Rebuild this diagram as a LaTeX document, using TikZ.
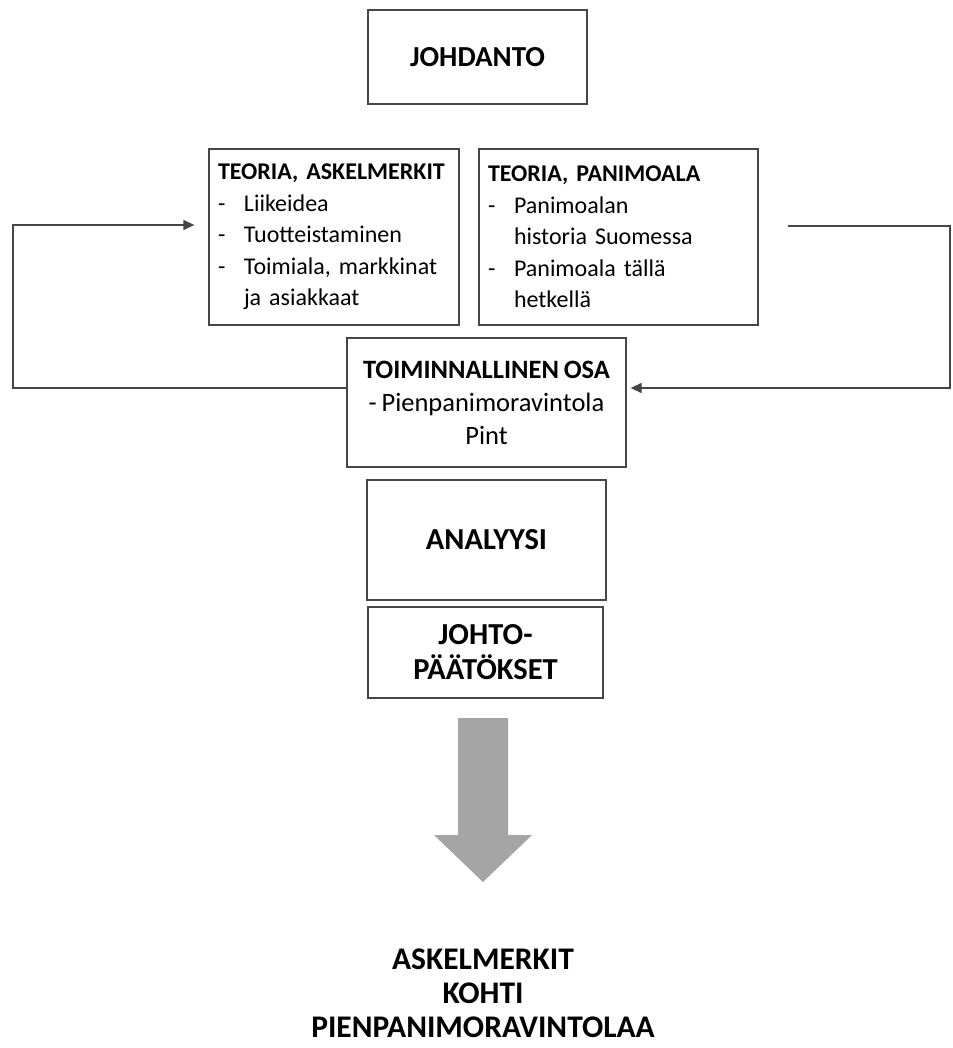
\documentclass[tikz,border=0pt]{standalone}
\usepackage{fontspec}
\setmainfont{Carlito}[WordSpace=0.8]
\frenchspacing
\usetikzlibrary{arrows.meta,positioning}
\definecolor{boxgrey}{RGB}{70,70,70}
\definecolor{flowgrey}{RGB}{165,165,165}
\newcommand{\dashitem}[1]{\makebox[26pt][l]{-}#1}
\newcommand{\hangitem}[1]{\hspace*{26pt}#1}
\tikzset{
  box/.style={draw=boxgrey, line width=1.3pt, inner ysep=0pt, inner xsep=9pt,
    font=\fontsize{30.5}{35}\selectfont},
  listbox/.style={box, align=left, minimum height=176pt,
    font=\fontsize{24}{31.5}\selectfont},
  loopline/.style={draw=boxgrey, line width=1.3pt},
  looparrow/.style={loopline, -{Triangle[length=11pt,width=10pt]}},
}
\begin{document}
\begin{tikzpicture}[x=1pt, y=-1pt]
  \useasboundingbox (0,0) rectangle (952,1048);
  % Boxes
  \node[box, minimum width=219pt, minimum height=94pt,
    font=\fontsize{29}{35}\selectfont] (johdanto) at (477.5,57)
    {\textbf{JOHDANTO}};
  \node[listbox, text width=232pt] (askel) at (334,237)
    {\textbf{TEORIA, ASKELMERKIT}\\
     \dashitem{Liikeidea}\\
     \dashitem{Tuotteistaminen}\\
     \dashitem{Toimiala, markkinat}\\
     \hangitem{ja asiakkaat}};
  \node[listbox, text width=261pt] (panimo) at (618.5,237)
    {\textbf{TEORIA, PANIMOALA}\\
     \dashitem{Panimoalan}\\
     \hangitem{historia Suomessa}\\
     \dashitem{Panimoala tällä}\\
     \hangitem{hetkellä}};
  \node[box, align=center, minimum width=279pt, minimum height=129pt,
    font=\fontsize{26.5}{33}\selectfont] (toim) at (486.5,402.5)
    {\textbf{TOIMINNALLINEN OSA}\\
     - Pienpanimoravintola\\
     Pint};
  \node[box, minimum width=239pt, minimum height=120pt] (analyysi) at (486.5,540)
    {\textbf{ANALYYSI}};
  \node[box, align=center, minimum width=235pt, minimum height=91pt] (johto) at (485.5,652.5)
    {\textbf{JOHTO-}\\\textbf{PÄÄTÖKSET}};
  % Result
  \fill[flowgrey] (458,718) -- (508,718) -- (508,835) -- (532,835)
    -- (483,882) -- (434,835) -- (458,835) -- cycle;
  \node[font=\fontsize{31.5}{34}\selectfont\bfseries, align=center] (tulos) at (483,993)
    {ASKELMERKIT\\KOHTI\\PIENPANIMORAVINTOLAA};
  % Feedback loops
  \coordinate (lnw) at (13,225);
  \coordinate (lsw) at (13,388);
  \coordinate (rne) at (950,226);
  \coordinate (rse) at (950,388);
  \draw[looparrow] (toim.west |- lsw) -- (lsw) -- (lnw) -- ([xshift=-14pt]askel.west |- lnw);
  \draw[looparrow] ([xshift=29pt]panimo.east |- rne) -- (rne) -- (rse)
    -- ([xshift=4pt]toim.east |- rse);
\end{tikzpicture}
\end{document}
